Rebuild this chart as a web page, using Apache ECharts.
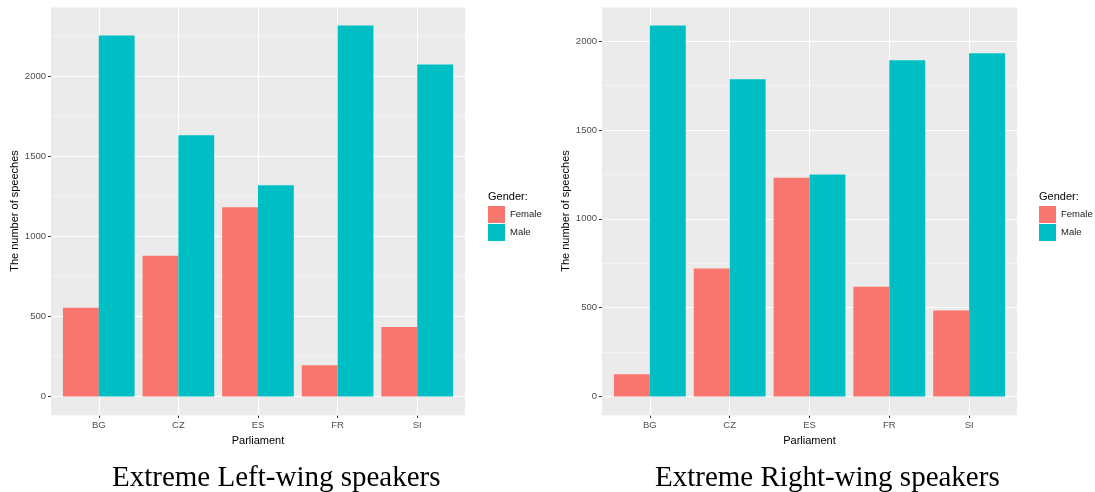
<!DOCTYPE html>
<html>
<head>
<meta charset="utf-8">
<script src="https://cdn.jsdelivr.net/npm/echarts@6/dist/echarts.min.js"></script>
<style>
html,body{margin:0;padding:0;background:#fff;}
#chart{width:1095px;height:492px;}
</style>
</head>
<body>
<div id="chart"></div>
<script>
const categories = ['BG', 'CZ', 'ES', 'FR', 'SI'];
const genders = ['Female', 'Male'];
const leftFemale = [554, 878, 1181, 195, 434];
const leftMale = [2253, 1630, 1318, 2315, 2072];
const rightFemale = [125, 720, 1231, 617, 484];
const rightMale = [2088, 1786, 1250, 1893, 1932];
const yMajorTicks = [0, 500, 1000, 1500, 2000];
const captions = ['Extreme Left-wing speakers', 'Extreme Right-wing speakers'];
const xTitle = 'Parliament';
const yTitle = 'The number of speeches';
const legendTitle = 'Gender:';

const colors = ['#F8766D', '#00BFC4'];
const FONT = '"Liberation Sans", Arial, sans-serif';
const xPos = categories.map((c, i) => i + 1);

const panels = [
  { female: leftFemale, male: leftMale, left: 51, width: 414, legendLeft: 483, capLeft: 107 },
  { female: rightFemale, male: rightMale, left: 602, width: 415, legendLeft: 1034, capLeft: 650 }
];

const grid = [], xAxis = [], yAxis = [], series = [], legend = [], title = [];
panels.forEach((p, k) => {
  const mx = Math.max(...p.female, ...p.male);
  const ymin = -0.05 * mx, ymax = 1.05 * mx;
  grid.push({ left: p.left, width: p.width, top: 7, height: 408, show: true,
    backgroundColor: '#EBEBEB', borderWidth: 0 });
  xAxis.push({
    type: 'value', gridIndex: k, min: 0.4, max: categories.length + 0.6, position: 'bottom',
    name: xTitle, nameLocation: 'middle', nameGap: 20,
    nameTextStyle: { fontFamily: FONT, fontSize: 11, color: '#000' },
    axisLine: { show: false, onZero: false },
    axisTick: { show: true, length: 3, lineStyle: { color: '#333', width: 1 }, customValues: xPos },
    axisLabel: { customValues: xPos, margin: 5, fontFamily: FONT, fontSize: 9.5, color: '#4D4D4D',
      formatter: v => categories[Math.round(v) - 1] || '' },
    splitLine: { show: true, lineStyle: { color: '#FFFFFF', width: 1 } }
  });
  // major y axis
  yAxis.push({
    type: 'value', gridIndex: k, min: ymin, max: ymax, position: 'left',
    name: yTitle, nameLocation: 'middle', nameGap: 30, nameRotate: 90,
    nameTextStyle: { fontFamily: FONT, fontSize: 11, color: '#000' },
    axisLine: { show: false, onZero: false },
    axisTick: { show: true, length: 3, lineStyle: { color: '#333', width: 1 }, customValues: yMajorTicks },
    axisLabel: { customValues: yMajorTicks, margin: 5, fontFamily: FONT, fontSize: 9.5, color: '#4D4D4D',
      formatter: v => String(v) },
    splitLine: { show: true, lineStyle: { color: '#FFFFFF', width: 1 } },
    z: 2
  });
  // minor grid axis
  yAxis.push({
    type: 'value', gridIndex: k, min: ymin, max: ymax, position: 'left',
    minInterval: 250, maxInterval: 250,
    axisLine: { show: false, onZero: false }, axisTick: { show: false }, axisLabel: { show: false },
    splitLine: { show: true, lineStyle: { color: '#F6F6F6', width: 0.7 } },
    z: 1
  });
  [p.female, p.male].forEach((arr, j) => {
    series.push({
      type: 'bar', name: genders[j], xAxisIndex: k, yAxisIndex: 2 * k,
      data: arr.map((v, i) => [xPos[i], v]),
      itemStyle: { color: colors[j] },
      barGap: '0%', barCategoryGap: '10%',
      emphasis: { disabled: true }
    });
  });
  legend.push({
    data: genders, orient: 'vertical', left: p.legendLeft, top: 201,
    itemWidth: 17, itemHeight: 17, itemGap: 1, icon: 'rect',
    selectedMode: false,
    textStyle: { fontFamily: FONT, fontSize: 9.5, color: '#1A1A1A' }
  });
  title.push({
    text: legendTitle, left: p.legendLeft, top: 186,
    textStyle: { fontFamily: FONT, fontSize: 11, fontWeight: 'normal', color: '#000' }
  });
  title.push({
    text: captions[k], left: p.capLeft, top: 459,
    textStyle: { fontFamily: '"Liberation Serif", "Times New Roman", serif', fontSize: 29, fontWeight: 'normal', color: '#000' }
  });
});

const chart = echarts.init(document.getElementById('chart'), null, { renderer: 'canvas' });
chart.setOption({
  animation: false,
  color: colors,
  grid, xAxis, yAxis, series, legend, title
});
</script>
</body>
</html>
